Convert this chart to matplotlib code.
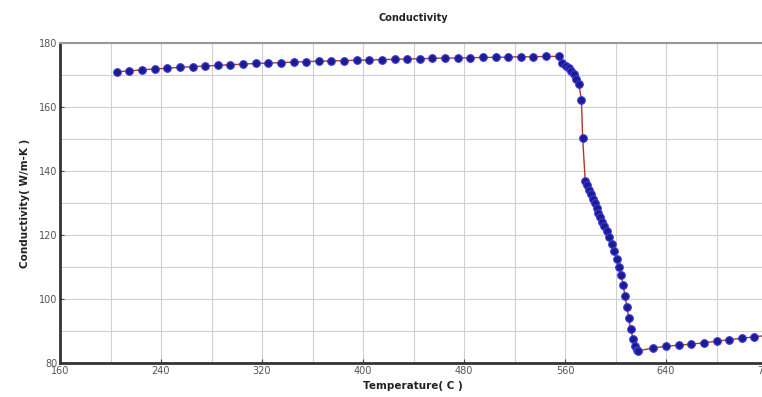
import numpy as np
import matplotlib.pyplot as plt

# Data
temp_plateau = [205, 215, 225, 235, 245, 255, 265, 275, 285, 295, 305, 315,
                325, 335, 345, 355, 365, 375, 385, 395, 405, 415, 425, 435,
                445, 455, 465, 475, 485, 495, 505, 515, 525, 535, 545, 555]
cond_plateau = [171.0, 171.3, 171.6, 171.9, 172.1, 172.4, 172.6, 172.8,
                173.0, 173.2, 173.4, 173.6, 173.7, 173.9, 174.0, 174.2,
                174.3, 174.4, 174.5, 174.6, 174.7, 174.8, 174.9, 175.0,
                175.1, 175.2, 175.3, 175.3, 175.4, 175.5, 175.5, 175.6,
                175.7, 175.7, 175.8, 175.8]
temp_drop = [558, 561, 563, 565, 567, 569, 571, 573, 574,
             576, 577.5, 579, 580.5, 582, 583.5, 585, 586.5, 588, 589.5,
             591, 593, 595, 597, 599, 601, 603, 604.5, 606, 607.5, 609,
             610.5, 612, 614, 615.5, 617, 618]
cond_drop = [173.7, 172.8, 172.2, 171.2, 170.3, 168.8, 167.2, 162.2, 150.3,
             137.0, 135.5, 134.0, 132.7, 131.3, 130.0, 128.5, 127.0, 125.5,
             124.2, 122.8, 121.2, 119.3, 117.2, 115.0, 112.5, 110.0, 107.5,
             104.5, 101.0, 97.5, 94.0, 90.5, 87.5, 85.2, 84.0, 83.8]
temp_tail = [630, 640, 650, 660, 670, 680, 690, 700, 710, 720]
cond_tail = [84.7, 85.2, 85.6, 85.9, 86.3, 86.8, 87.3, 87.7, 88.2, 88.6]

temp = temp_plateau + temp_drop + temp_tail
cond = cond_plateau + cond_drop + cond_tail

plt.rc('font', family='DejaVu Sans', size=7)

fig = plt.figure(figsize=[7.62, 3.97], dpi=100)
ax = fig.add_axes([60/762, 34/397, 707/762, 320/397])

ax.plot(temp, cond,
        color='#a83a28',
        linewidth=1,
        zorder=2)
ax.plot(temp, cond,
        linestyle='none',
        marker='o',
        markersize=5.5,
        markerfacecolor='#1c1c8c',
        markeredgecolor='#3a3ae0',
        markeredgewidth=0.8,
        zorder=3)

ax.set_xlim(160, 720)
ax.set_ylim(80, 180)
ax.set_xticks(np.arange(160, 721, 80))
ax.set_yticks(np.arange(80, 181, 20))
ax.set_xticks(np.arange(160, 721, 40), minor=True)
ax.set_yticks(np.arange(80, 181, 10), minor=True)
ax.grid(which='both', color='#d0d0d0', linewidth=0.8)
ax.set_axisbelow(True)
ax.tick_params(which='major', direction='in', length=3, width=0.8,
               colors='#444444', labelcolor='#555555', labelsize=7, pad=2)
ax.tick_params(which='minor', length=0)

for side in ['left', 'bottom']:
    ax.spines[side].set_color('#333333')
    ax.spines[side].set_linewidth(2)
ax.spines['top'].set_color('#999999')
ax.spines['top'].set_linewidth(1.5)
ax.spines['right'].set_visible(False)

ax.set_title('Conductivity', fontsize=7, fontweight='bold',
             color='#222222', pad=16)
ax.set_xlabel('Temperature( C )', fontsize=7.5, fontweight='bold',
              color='#222222', labelpad=3)
ax.set_ylabel('Conductivity( W/m-K )', fontsize=7.5, fontweight='bold',
              color='#222222', labelpad=6)
ax.xaxis.set_label_coords((413 - 60) / 707, -0.055)

plt.savefig('out.png', dpi=100)
